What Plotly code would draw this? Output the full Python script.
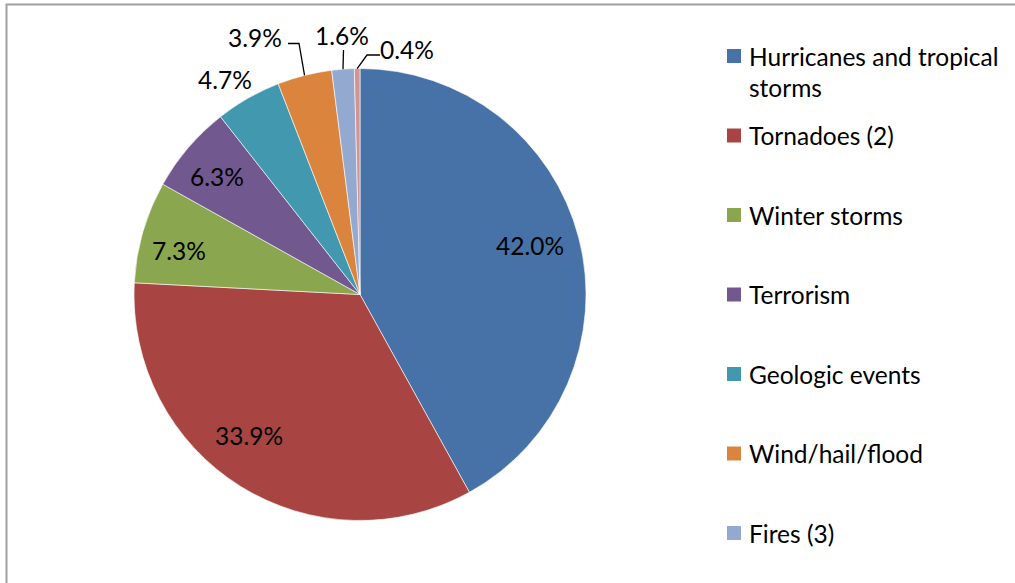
import math
import textwrap
import plotly.graph_objects as go

# ---------------- data ----------------
categories = [
    "Hurricanes and tropical storms",
    "Tornadoes (2)",
    "Winter storms",
    "Terrorism",
    "Geologic events",
    "Wind/hail/flood",
    "Fires (3)",
    "Civil disorders, water damage, utility disruptions (4)",
]
shares = [42.0, 33.9, 7.3, 6.3, 4.7, 3.9, 1.6, 0.4]
colors = ["#4672A8", "#A84542", "#8AA64E", "#71588F", "#4298AF",
          "#DB843D", "#93A9CF", "#D39391"]

# ---------------- layout constants ----------------
W, H = 1015, 583
CX, CY, R = 360.0, 294.5, 226.0          # pie centre / radius (px)
FONT = "Lato, 'Open Sans', sans-serif"
FS = 24.5
INSIDE_FACTOR = 0.8
# small nudges (px) of inside labels, as the original layout engine placed them
inside_nudge = {0: (-5, -4), 1: (-15, -12), 2: (-7, 6), 3: (-6, 0)}
# outside labels: (text centre px, leader start px, elbow px or None)
outside_labels = {
    4: ((225, 80), None, None),
    5: ((255, 37.5), (288, 43.5), (299, 43.5)),
    6: ((341.5, 35), (343.5, 50), None),
    7: ((407, 50), (380, 55), (367, 55)),
}
LEG_X_SQ, LEG_X_TXT = 727, 747
LEG_Y0, LEG_STEP, LEG_LINE = 56, 79.5, 32
SQ = 14


def px(x):
    return x / W


def py(y):
    return 1 - y / H


fig = go.Figure()
fig.add_trace(go.Pie(
    labels=categories,
    values=shares,
    sort=False,
    direction="clockwise",
    rotation=0,
    textinfo="none",
    hoverinfo="label+percent",
    showlegend=False,
    marker=dict(colors=colors, line=dict(color="white", width=0.6)),
    domain=dict(x=[px(CX - R), px(CX + R)], y=[py(CY + R), py(CY - R)]),
))

annotations = []
shapes = []

total = sum(shares)
cum = 0.0
for i, v in enumerate(shares):
    mid = (cum + v / 2) / total * 2 * math.pi   # clockwise from 12 o'clock
    cum += v
    txt = f"{v:.1f}%"
    if i in outside_labels:
        (tx, ty), start, elbow = outside_labels[i]
        annotations.append(dict(x=px(tx), y=py(ty), xref="paper", yref="paper",
                                text=txt, showarrow=False, xanchor="center", yanchor="middle",
                                font=dict(family=FONT, size=FS, color="black")))
        if start is not None:
            ex = CX + R * math.sin(mid)
            ey = CY - R * math.cos(mid)
            pts = [start] + ([elbow] if elbow else []) + [(ex, ey)]
            path = "M " + " L ".join(f"{px(a)},{py(b)}" for a, b in pts)
            shapes.append(dict(type="path", path=path, xref="paper", yref="paper",
                               line=dict(color="black", width=1.3)))
    else:
        r = R * INSIDE_FACTOR
        dx, dy = inside_nudge.get(i, (0, 0))
        lx = CX + r * math.sin(mid) + dx
        ly = CY - r * math.cos(mid) + dy
        annotations.append(dict(x=px(lx), y=py(ly), xref="paper", yref="paper",
                                text=txt, showarrow=False, xanchor="center", yanchor="middle",
                                font=dict(family=FONT, size=FS, color="black")))

# legend (manual; the reference is cropped at the bottom)
for i, (name, col) in enumerate(zip(categories, colors)):
    yc = LEG_Y0 + i * LEG_STEP
    if yc > H - 10:
        continue
    shapes.append(dict(type="rect", xref="paper", yref="paper",
                       x0=px(LEG_X_SQ), x1=px(LEG_X_SQ + SQ),
                       y0=py(yc + SQ / 2), y1=py(yc - SQ / 2),
                       fillcolor=col, line=dict(width=0)))
    for k, line in enumerate(textwrap.wrap(name, 23)):
        annotations.append(dict(x=px(LEG_X_TXT), y=py(yc + k * LEG_LINE), xref="paper", yref="paper",
                                text=line, showarrow=False, xanchor="left", yanchor="middle",
                                font=dict(family=FONT, size=FS, color="black")))

# chart-area border (top and left visible in the cropped reference)
shapes.append(dict(type="rect", xref="paper", yref="paper",
                   x0=px(6.5), x1=1.02, y0=-0.02, y1=py(4.5),
                   line=dict(color="#A0A0A0", width=2), fillcolor="rgba(0,0,0,0)"))

fig.update_layout(
    width=W, height=H,
    margin=dict(l=0, r=0, t=0, b=0),
    paper_bgcolor="white", plot_bgcolor="white",
    annotations=annotations, shapes=shapes,
    font=dict(family=FONT, size=FS, color="black"),
)

fig.write_html(
    "out.html",
    config={"displayModeBar": False},
    post_script="document.body.style.margin='0';document.body.style.overflow='hidden';",
)
